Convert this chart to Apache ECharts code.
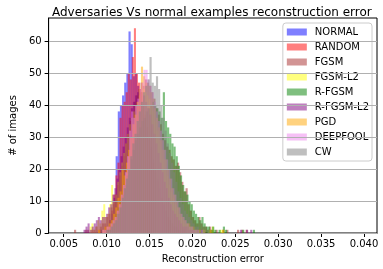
<!DOCTYPE html>
<html><head><meta charset="utf-8">
<script src="https://cdn.jsdelivr.net/npm/echarts@6/dist/echarts.min.js"></script>
<style>html,body{margin:0;padding:0;background:#fff}#c{width:383px;height:269px}</style>
</head><body><div id="c"></div>
<script>
// Series names (legend order) and colours
const seriesNames = ['NORMAL','RANDOM','FGSM','FGSM-L2','R-FGSM','R-FGSM-L2','PGD','DEEPFOOL','CW'];
const seriesColors = ['rgba(0,0,255,0.5)','rgba(255,0,0,0.5)','rgba(165,42,42,0.5)','rgba(255,255,0,0.5)','rgba(0,128,0,0.5)','rgba(128,0,128,0.5)','rgba(255,165,0,0.5)','rgba(238,130,238,0.5)','rgba(128,128,128,0.5)'];

// Histogram bins: first bin left edge, bin width, counts per bin
const normalStart = 0.0093, normalWidth = 0.00025;
const normalCounts = [1,0,2,1,4,6,11,24,38,40,43,47,50,63,59,49,50,46,43,40,36,33,30,27,23,20,17,14,11,9,7,5,4,3,2,2,1,0,1];

const randomStart = 0.0091, randomWidth = 0.00024;
const randomCounts = [1,0,1,2,2,4,7,12,18,22,36,40,41,44,50,48,55,64,50,47,44,40,37,33,29,26,22,19,16,13,11,9,7,5,4,3,2,2,1,1,0,1];

const fgsmStart = 0.0062, fgsmWidth = 0.00025;
const fgsmCounts = [1,0,0,0,0,1,1,0,1,1,2,1,2,3,3,5,6,8,9,12,15,18,21,24,28,31,35,38,41,43,45,47,46,48,47,46,44,42,39,37,34,31,29,27,26,24,23,21,22,19,16,13,14,9,7,5,4,3,5,3,2,2,1,2,1,0,1,0,0,1,0,1,0,0,0,0,1,0,1,0,1];

const fgsmL2Start = 0.0080, fgsmL2Width = 0.00023;
const fgsmL2Counts = [2,3,1,2,4,3,7,9,5,6,9,15,10,12,16,19,22,25,28,31,34,36,38,40,41,43,44,45,44,43,42,40,38,35,32,29,26,23,20,18,15,13,11,9,8,6,5,4,3,3,2,2,1,1,1,1,0,1,0,0,1,0,2,0,0,0,1,1];

const rfgsmStart = 0.0098, rfgsmWidth = 0.00025;
const rfgsmCounts = [1,1,2,3,4,6,8,10,12,15,18,20,23,26,29,31,33,35,36,38,39,40,41,40,39,38,36,44,35,33,31,28,27,24,21,18,15,13,12,10,9,7,6,5,4,5,3,2,2,1,2,1,0,1,0,2,1,0,0,0,0,0,0,0,1,0,0,0,0,1];

const rfgsmL2Start = 0.0073, rfgsmL2Width = 0.00024;
const rfgsmL2Counts = [1,2,3,1,2,3,4,5,4,5,5,6,8,9,12,14,17,20,24,27,30,33,36,39,41,43,44,45,44,43,41,39,37,34,31,28,25,22,19,16,14,11,9,7,6,5,4,3,2,2,2,1,1,1,0,1,0,1,0,0,0,0,0,0,0,0,0,0,0,0,0,0,0,0,0,0,1,0,0,1,0,1];

const pgdStart = 0.0090, pgdWidth = 0.00025;
const pgdCounts = [1,0,1,2,2,3,4,6,8,11,13,20,18,22,26,30,34,37,41,45,52,49,47,46,44,42,39,36,33,29,26,23,20,17,14,12,10,8,6,5,4,3,3,2,2,1,1,1,0,1,0,0,1,0,0,0,0,0,1];

const deepfoolStart = 0.0095, deepfoolWidth = 0.00024;
const deepfoolCounts = [1,1,2,2,3,4,5,7,9,12,15,19,24,32,38,36,40,42,45,47,51,51,48,46,44,41,38,35,32,29,26,23,20,17,14,12,10,8,6,5,4,3,2,2,1,1,1,0,1];

const cwStart = 0.0100, cwWidth = 0.00025;
const cwCounts = [1,1,2,3,4,6,8,11,14,17,20,24,28,31,35,38,41,44,46,48,55,47,46,49,45,40,36,32,28,25,22,19,16,13,11,9,7,6,5,4,3,2,2,1,1,1,0,1];

// Axis ticks
const xTicks = [0.005,0.010,0.015,0.020,0.025,0.030,0.035,0.040];
const yTicks = [0,10,20,30,40,50,60];

const hists = [
  [normalStart, normalWidth, normalCounts],
  [randomStart, randomWidth, randomCounts],
  [fgsmStart, fgsmWidth, fgsmCounts],
  [fgsmL2Start, fgsmL2Width, fgsmL2Counts],
  [rfgsmStart, rfgsmWidth, rfgsmCounts],
  [rfgsmL2Start, rfgsmL2Width, rfgsmL2Counts],
  [pgdStart, pgdWidth, pgdCounts],
  [deepfoolStart, deepfoolWidth, deepfoolCounts],
  [cwStart, cwWidth, cwCounts]
];

function toData(start, width, counts) {
  const out = [];
  counts.forEach((c, i) => { if (c > 0) out.push([start + i*width, start + (i+1)*width, c]); });
  return out;
}

const FONT = 'DejaVu Sans';
const series = hists.map((h, idx) => ({
  type: 'custom',
  name: seriesNames[idx],
  itemStyle: { color: seriesColors[idx] },
  encode: { x: [0, 1], y: 2 },
  data: toData(h[0], h[1], h[2]),
  renderItem: function (params, api) {
    const p0 = api.coord([api.value(0), 0]);
    const p1 = api.coord([api.value(1), api.value(2)]);
    return {
      type: 'rect',
      shape: { x: p0[0], y: p1[1], width: p1[0] - p0[0], height: p0[1] - p1[1] },
      style: { fill: seriesColors[idx] }
    };
  }
}));

const chart = echarts.init(document.getElementById('c'), null, { renderer: 'canvas' });
chart.setOption({
  animation: false,
  backgroundColor: '#fff',
  textStyle: { fontFamily: FONT },
  title: {
    text: 'Adversaries Vs normal examples reconstruction error',
    left: 47, top: 2,
    textStyle: { fontSize: 12, fontWeight: 'normal', color: '#000', fontFamily: FONT }
  },
  legend: {
    orient: 'vertical', right: 11, top: 23,
    padding: [3, 3, 3, 4],
    itemWidth: 20, itemHeight: 7, itemGap: 3,
    icon: 'rect',
    backgroundColor: 'rgba(255,255,255,0.8)',
    borderColor: '#cccccc', borderWidth: 1, borderRadius: 3,
    textStyle: { fontSize: 10, color: '#000', fontFamily: FONT, lineHeight: 12, padding: [0, 0, 0, 3] },
    data: seriesNames
  },
  grid: { left: 42, right: 6, top: 18, bottom: 32, show: true, borderColor: '#000', borderWidth: 1 },
  xAxis: {
    type: 'value', min: 0.00324, max: 0.04152,
    name: 'Reconstruction error', nameLocation: 'middle', nameGap: 21,
    nameTextStyle: { fontSize: 10, color: '#000', fontFamily: FONT },
    axisLine: { show: true, lineStyle: { color: '#000' } },
    axisTick: { show: true, length: 4, lineStyle: { color: '#000' }, customValues: xTicks },
    axisLabel: { customValues: xTicks, formatter: v => v.toFixed(3), color: '#000', fontSize: 10, margin: 6, fontFamily: FONT },
    splitLine: { show: false }
  },
  yAxis: {
    type: 'value', min: 0, max: 67.2, interval: 10, z: 10,
    name: '# of images', nameLocation: 'middle', nameGap: 25,
    nameTextStyle: { fontSize: 10, color: '#000', fontFamily: FONT },
    axisLine: { show: true, lineStyle: { color: '#000' } },
    axisTick: { show: true, length: 4, lineStyle: { color: '#000' }, customValues: yTicks },
    axisLabel: { customValues: yTicks, color: '#000', fontSize: 10, margin: 7, fontFamily: FONT },
    splitLine: { show: true, lineStyle: { color: '#b0b0b0', width: 1 } }
  },
  series: series
});
</script>
</body></html>
